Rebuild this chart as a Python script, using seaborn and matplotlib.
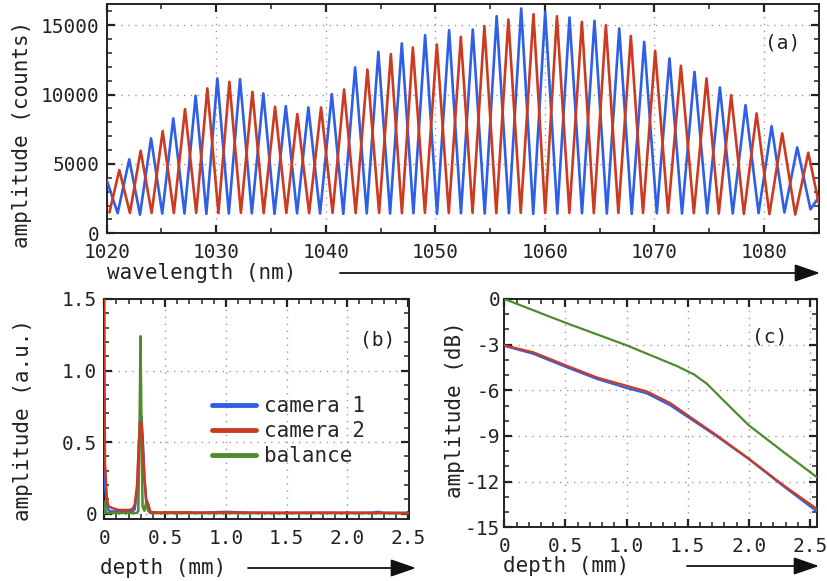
import numpy as np
import pandas as pd
import matplotlib
matplotlib.use("Agg")
import matplotlib.pyplot as plt
import seaborn as sns
from matplotlib.ticker import MultipleLocator, FuncFormatter
from matplotlib.lines import Line2D
from matplotlib.patches import FancyArrowPatch

# ---------------- data ----------------
# (a) spectral interferograms: peaks and troughs
blue_peak_nm = [1022.06, 1024.05, 1026.08, 1028.12, 1030.10, 1032.17, 1034.30, 1036.35,
                1038.41, 1040.55, 1042.68, 1044.80, 1046.94, 1049.07, 1051.26, 1053.42,
                1055.60, 1057.84, 1060.03, 1062.25, 1064.53, 1066.79, 1069.07, 1071.38,
                1073.66, 1075.98, 1078.32, 1080.70, 1083.04]
blue_peak_amp = [5330, 6840, 8280, 9910, 11160, 11110, 10080, 9165,
                 9070, 10030, 11950, 13075, 13680, 14275, 14635, 14685,
                 15645, 16200, 15955, 15550, 15310, 14760, 13795, 12600,
                 11635, 10510, 9235, 7725, 6190]
blue_trough_nm = [1021.00, 1023.04, 1025.07, 1027.10, 1029.10, 1031.15, 1033.25, 1035.32,
                  1037.38, 1039.48, 1041.60, 1043.74, 1045.87, 1048.00, 1050.16, 1052.34,
                  1054.51, 1056.72, 1058.94, 1061.14, 1063.39, 1065.66, 1067.93, 1070.22,
                  1072.52, 1074.82, 1077.15, 1079.51, 1081.87, 1084.25]
blue_trough_amp = [1450, 1340, 1420, 1420, 1400, 1420, 1440, 1400,
                   1440, 1420, 1400, 1440, 1420, 1440, 1400, 1440,
                   1420, 1440, 1400, 1420, 1440, 1420, 1400, 1440,
                   1420, 1440, 1420, 1450, 1500, 1730]
blue_edge_nm = [1020.0, 1085.0]
blue_edge_amp = [3840, 2600]

red_peak_nm = [1021.15, 1023.10, 1025.11, 1027.15, 1029.19, 1031.20, 1033.30, 1035.37,
               1037.40, 1039.57, 1041.67, 1043.80, 1045.94, 1047.95, 1050.14, 1052.33,
               1054.48, 1056.67, 1058.96, 1061.10, 1063.38, 1065.57, 1067.85, 1070.07,
               1072.42, 1074.76, 1077.01, 1079.33, 1081.67, 1084.05]
red_peak_amp = [4560, 5950, 7365, 8950, 10440, 10915, 10195, 9120,
                8590, 9070, 10365, 11805, 12910, 13390, 13605, 14155,
                14925, 15405, 15790, 15645, 15235, 14995, 14225, 13150,
                12070, 11160, 9955, 8640, 7200, 5805]
red_trough_nm = [1020.25, 1022.12, 1024.10, 1026.13, 1028.17, 1030.20, 1032.25, 1034.33,
                 1036.40, 1038.48, 1040.62, 1042.73, 1044.87, 1046.95, 1049.05, 1051.23,
                 1053.40, 1055.57, 1057.80, 1060.03, 1062.24, 1064.47, 1066.71, 1068.96,
                 1071.25, 1073.60, 1075.88, 1078.17, 1080.50, 1082.86]
red_trough_amp = [1500, 1470, 1470, 1460, 1470, 1450, 1470, 1460,
                  1470, 1450, 1470, 1460, 1470, 1450, 1470, 1460,
                  1470, 1450, 1470, 1460, 1470, 1450, 1470, 1460,
                  1470, 1450, 1420, 1400, 1380, 1350]
red_edge_nm = [1085.0]
red_edge_amp = [2200]

# (b) A-scans
cam1_depth_b = [0.0, 0.005, 0.01, 0.02, 0.03, 0.04, 0.06, 0.10, 0.15, 0.20, 0.23, 0.25, 0.27,
                0.285, 0.295, 0.305, 0.315, 0.33, 0.345, 0.36, 0.38, 0.45, 0.6, 0.8, 1.0,
                1.2, 1.5, 1.8, 2.0, 2.2, 2.25, 2.3, 2.5]
cam1_amp_b = [0.60, 0.19, 0.17, 0.08, 0.03, 0.02, 0.015, 0.015, 0.012, 0.015, 0.015, 0.03, 0.15,
              0.50, 0.66, 0.68, 0.55, 0.25, 0.08, 0.06, 0.01, 0.006, 0.008, 0.006, 0.012,
              0.006, 0.005, 0.006, 0.005, 0.006, 0.012, 0.005, 0.004]
cam2_depth_b = [0.0, 0.005, 0.01, 0.02, 0.03, 0.04, 0.06, 0.08, 0.12, 0.16, 0.20, 0.23, 0.25,
                0.27, 0.285, 0.295, 0.305, 0.315, 0.33, 0.345, 0.36, 0.38, 0.45, 0.6, 0.8,
                1.0, 1.2, 1.5, 1.8, 2.0, 2.2, 2.5]
cam2_amp_b = [1.60, 0.35, 0.30, 0.12, 0.06, 0.05, 0.04, 0.035, 0.025, 0.025, 0.025, 0.03, 0.06,
              0.20, 0.50, 0.63, 0.64, 0.50, 0.25, 0.10, 0.07, 0.008, 0.007, 0.009, 0.006,
              0.008, 0.006, 0.005, 0.006, 0.005, 0.005, 0.004]
bal_depth_b = [0.0, 0.005, 0.01, 0.02, 0.05, 0.10, 0.20, 0.27, 0.28, 0.29, 0.298, 0.306,
               0.315, 0.33, 0.345, 0.36, 0.38, 0.6, 1.0, 1.5, 2.0, 2.5]
bal_amp_b = [0.0, 0.08, 0.02, 0.005, 0.004, 0.004, 0.004, 0.004, 0.02, 0.60, 1.24, 0.60,
             0.05, 0.02, 0.08, 0.02, 0.003, 0.003, 0.003, 0.003, 0.003, 0.003]

# (c) sensitivity roll-off
cam_depth_c = [0.0, 0.237, 0.5, 0.756, 1.0, 1.165, 1.356, 1.5, 1.738, 2.0, 2.283, 2.555]
cam1_db_c = [-3.08, -3.60, -4.45, -5.25, -5.85, -6.20, -6.98, -7.75, -9.02, -10.52, -12.30, -13.95]
cam2_db_c = [-3.04, -3.50, -4.35, -5.15, -5.70, -6.07, -6.83, -7.64, -8.96, -10.49, -12.24, -13.78]
bal_depth_c = [0.0, 0.5, 1.0, 1.41, 1.55, 1.656, 1.76, 1.874, 2.0, 2.283, 2.555]
bal_db_c = [0.0, -1.56, -3.04, -4.40, -4.95, -5.56, -6.40, -7.31, -8.30, -10.05, -11.70]

series_labels = ["camera 1", "camera 2", "balance"]
C_BLUE, C_RED, C_GREEN = "#2f5fe6", "#cc3a22", "#4f8b2e"

# ---------------- figure ----------------
sns.set_theme(style="ticks")
plt.rcParams["font.family"] = ["DejaVu Sans Mono", "DejaVu Sans"]
plt.rcParams["axes.unicode_minus"] = False

W, H = 827, 581
fig = plt.figure(figsize=(W / 100, H / 100), dpi=100)


def ax_at(l, t, r, b):
    return fig.add_axes([l / W, 1 - b / H, (r - l) / W, (b - t) / H])


def style(ax):
    ax.tick_params(which="both", direction="in", top=True, right=True, color="#222222")
    ax.tick_params(which="major", length=6, width=1.6, labelsize=14, labelcolor="#222222")
    ax.tick_params(axis="x", which="major", pad=7)
    ax.tick_params(axis="y", which="major", pad=5)
    ax.tick_params(which="minor", length=3.5, width=1.1)
    for s in ax.spines.values():
        s.set_linewidth(1.4)
        s.set_color("#222222")
    ax.grid(True, which="major", linestyle=(0, (1, 4)), color="#999999", linewidth=1.0)
    ax.set_xlabel("")
    ax.set_ylabel("")


def zero_fmt(v, pos):
    return "0" if abs(v) < 1e-9 else f"{v:.1f}"


line_kw = dict(errorbar=None, zorder=3)

# (a)
axA = ax_at(106.7, 4.3, 818.7, 233.3)
blue_df = pd.DataFrame({
    "wavelength": blue_peak_nm + blue_trough_nm + blue_edge_nm,
    "amplitude": blue_peak_amp + blue_trough_amp + blue_edge_amp,
})
red_df = pd.DataFrame({
    "wavelength": red_peak_nm + red_trough_nm + red_edge_nm,
    "amplitude": red_peak_amp + red_trough_amp + red_edge_amp,
})
sns.lineplot(data=blue_df, x="wavelength", y="amplitude", ax=axA, color=C_BLUE,
             linewidth=1.9, solid_joinstyle="round", **line_kw)
sns.lineplot(data=red_df, x="wavelength", y="amplitude", ax=axA, color=C_RED,
             linewidth=1.9, solid_joinstyle="round", **line_kw)
axA.set_xlim(1020, 1085)
axA.set_ylim(0, 16500)
axA.xaxis.set_major_locator(MultipleLocator(10))
axA.xaxis.set_minor_locator(MultipleLocator(5))
axA.yaxis.set_major_locator(MultipleLocator(5000))
axA.yaxis.set_minor_locator(MultipleLocator(1000))
style(axA)

# (b)
axB = ax_at(104.3, 299, 409.3, 519.3)
sns.lineplot(x=cam1_depth_b, y=cam1_amp_b, ax=axB, color=C_BLUE, linewidth=1.8, **line_kw)
sns.lineplot(x=bal_depth_b, y=bal_amp_b, ax=axB, color=C_GREEN, linewidth=1.8, **line_kw)
sns.lineplot(x=cam2_depth_b, y=cam2_amp_b, ax=axB, color=C_RED, linewidth=1.8, **line_kw)
axB.set_xlim(0, 2.51)
axB.set_ylim(-0.04, 1.5)
axB.xaxis.set_major_locator(MultipleLocator(0.5))
axB.xaxis.set_minor_locator(MultipleLocator(0.1))
axB.yaxis.set_major_locator(MultipleLocator(0.5))
axB.yaxis.set_minor_locator(MultipleLocator(0.1))
axB.xaxis.set_major_formatter(FuncFormatter(zero_fmt))
axB.yaxis.set_major_formatter(FuncFormatter(zero_fmt))
style(axB)
handles = [Line2D([], [], color=c, linewidth=3.5) for c in (C_BLUE, C_RED, C_GREEN)]
axB.legend(handles, series_labels, loc="center left", bbox_to_anchor=(0.3266, 0.40),
           frameon=False, fontsize=15, handlelength=2.1, handletextpad=0.4,
           labelspacing=0.25, borderpad=0.4, borderaxespad=0)

# (c)
axC = ax_at(504.3, 299, 816.7, 527.3)
sns.lineplot(x=cam_depth_c, y=cam1_db_c, ax=axC, color=C_BLUE, linewidth=1.6, **line_kw)
sns.lineplot(x=cam_depth_c, y=cam2_db_c, ax=axC, color=C_RED, linewidth=1.6, **line_kw)
sns.lineplot(x=bal_depth_c, y=bal_db_c, ax=axC, color=C_GREEN, linewidth=1.6, **line_kw)
axC.set_xlim(0, 2.555)
axC.set_ylim(-15, 0)
axC.xaxis.set_major_locator(MultipleLocator(0.5))
axC.xaxis.set_minor_locator(MultipleLocator(0.1))
axC.yaxis.set_major_locator(MultipleLocator(3))
axC.yaxis.set_minor_locator(MultipleLocator(1))
axC.xaxis.set_major_formatter(FuncFormatter(zero_fmt))
axC.yaxis.set_major_formatter(FuncFormatter(lambda v, p: f"{v:.0f}"))
style(axC)
axC.tick_params(axis="y", which="major", pad=3)

# ---------------- labels, arrows, panel tags ----------------
def fx(px):
    return px / W


def fy(py):
    return 1 - py / H


lab_kw = dict(fontsize=15, color="#222222")
fig.text(fx(22), fy(134), "amplitude (counts)", rotation=90, ha="center", va="center", **lab_kw)
fig.text(fx(23), fy(420), "amplitude (a.u.)", rotation=90, ha="center", va="center", **lab_kw)
fig.text(fx(455), fy(410), "amplitude (dB)", rotation=90, ha="center", va="center", **lab_kw)

fig.text(fx(107), fy(273), "wavelength (nm)", ha="left", va="center", **lab_kw)
fig.text(fx(100), fy(568), "depth (mm)", ha="left", va="center", **lab_kw)
fig.text(fx(503), fy(566), "depth (mm)", ha="left", va="center", **lab_kw)

for x0, x1, y in [(340, 820, 273), (248, 416, 568), (687, 819, 566)]:
    fig.add_artist(FancyArrowPatch(
        (fx(x0), fy(y)), (fx(x1), fy(y)), transform=fig.transFigure,
        arrowstyle="-|>,head_length=1.3,head_width=0.45", mutation_scale=12,
        color="#111111", linewidth=1.3, shrinkA=0, shrinkB=0))

tag_kw = dict(fontsize=14, color="#222222", ha="center", va="center")
fig.text(fx(783), fy(43), "(a)", **tag_kw)
fig.text(fx(378), fy(340), "(b)", **tag_kw)
fig.text(fx(769.5), fy(337), "(c)", **tag_kw)

fig.savefig("out.png", dpi=100)
